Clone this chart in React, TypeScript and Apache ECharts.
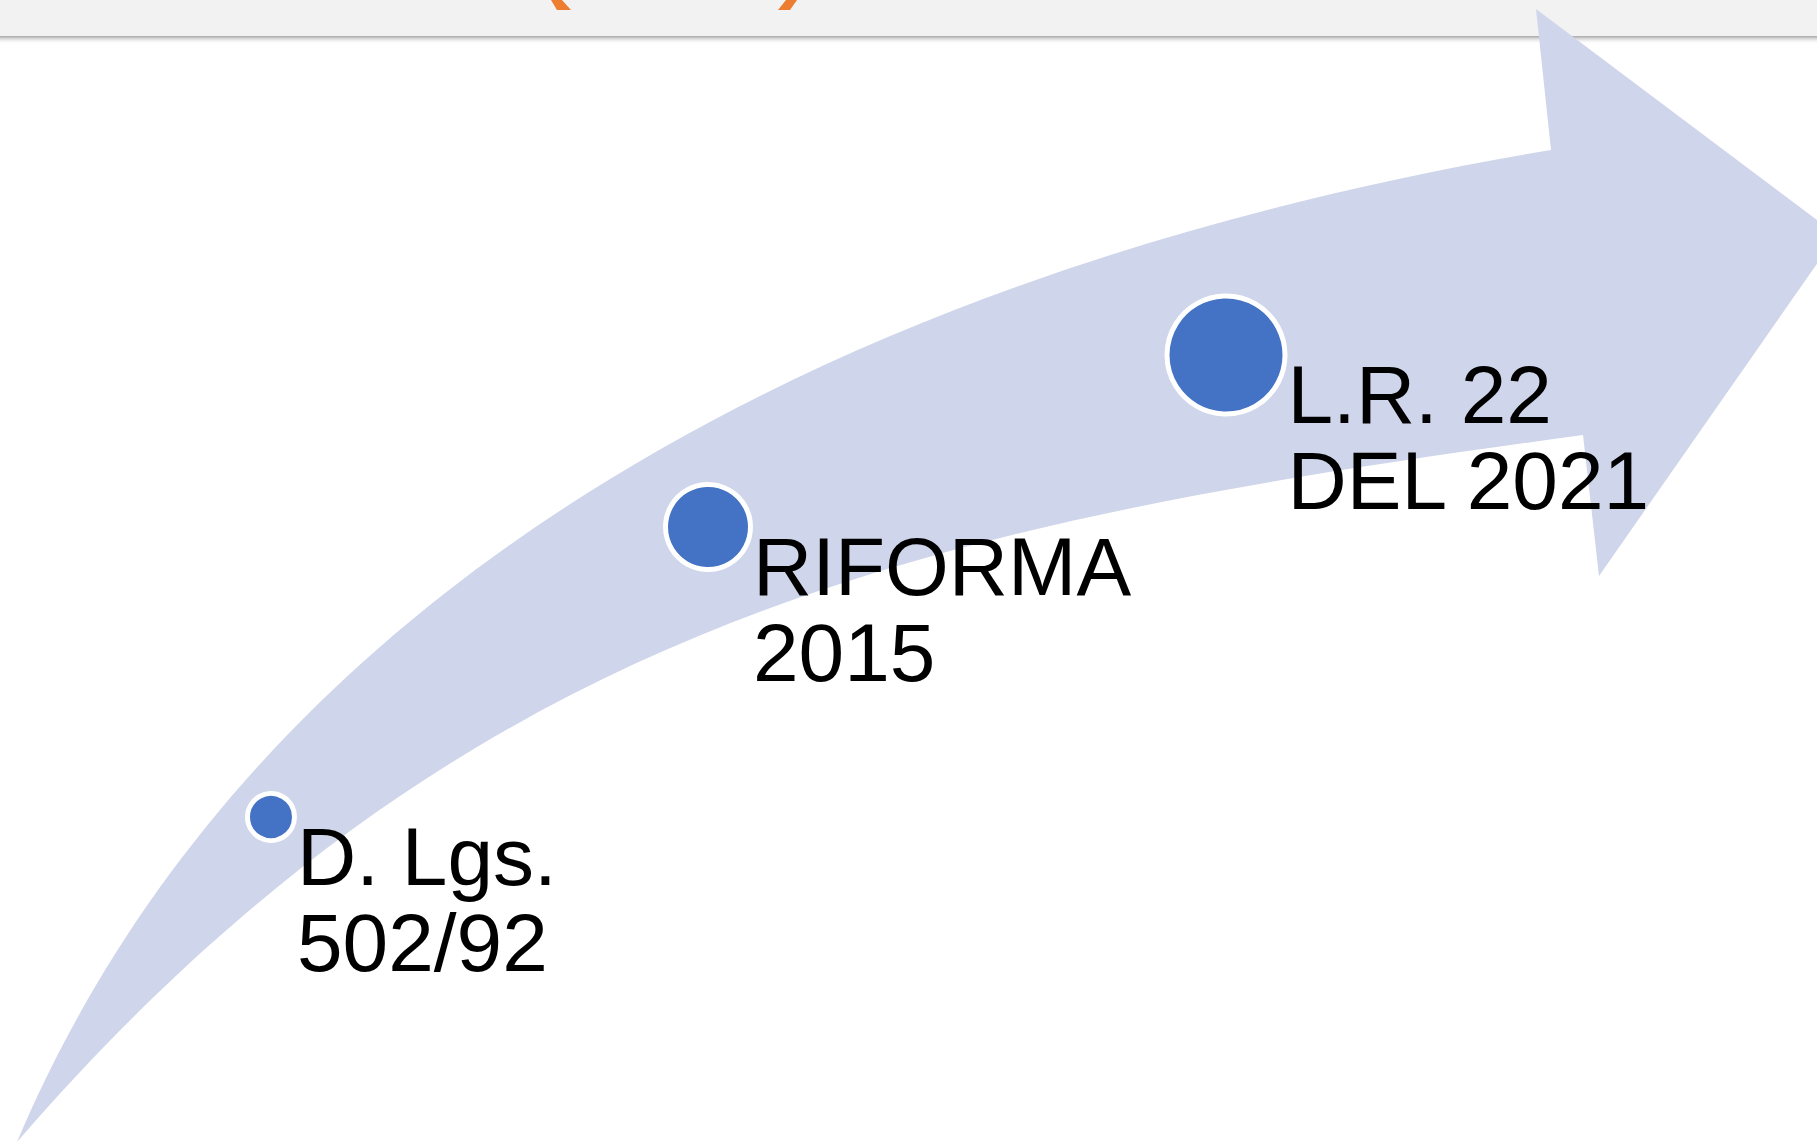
import React, { useEffect, useRef } from "react";
import * as echarts from "echarts";

// Timeline events (chart units = pixels of the 1817x1143 canvas)
const EVENT_NAMES = ["D. Lgs.\n502/92", "RIFORMA\n2015", "L.R. 22\nDEL 2021"];
const EVENT_X = [271, 708, 1226];
const EVENT_Y = [817, 527, 355];
const EVENT_SIZE = [47, 85, 118];

// Curved arrow outline (chart units)
const ARROW_HEAD = [
  [1551, 150],
  [1536, 9],
  [1837, 235],
  [1599, 576],
  [1583, 435],
];
const LOWER_EDGE = [
  [939, 523],
  [475, 613],
  [17, 1142],
];
const UPPER_EDGE = [
  [270, 544],
  [910, 257],
  [1551, 150],
];

const W = 1817;
const H = 1143;

export default function App() {
  const ref = useRef<HTMLDivElement>(null);

  useEffect(() => {
    if (!ref.current) return;
    const chart = echarts.init(ref.current, null, { renderer: "svg" });

    const data = EVENT_NAMES.map((n, i) => ({
      name: n,
      value: [EVENT_X[i], EVENT_Y[i]],
    }));

    const option: any = {
      animation: false,
      backgroundColor: "#ffffff",
      grid: { left: 0, right: 0, top: 0, bottom: 0 },
      xAxis: { type: "value", min: 0, max: W, show: false },
      yAxis: { type: "value", min: 0, max: H, inverse: true, show: false },
      graphic: [
        {
          type: "rect",
          z: 0,
          shape: { x: 0, y: 0, width: W, height: 36 },
          style: { fill: "#F2F2F2" },
          silent: true,
        },
        {
          type: "rect",
          z: 0,
          shape: { x: 0, y: 36, width: W, height: 8 },
          style: {
            fill: new echarts.graphic.LinearGradient(0, 0, 0, 1, [
              { offset: 0, color: "#A6A6A6" },
              { offset: 1, color: "rgba(255,255,255,0)" },
            ]),
          },
          silent: true,
        },
        {
          type: "polygon",
          z: 1,
          shape: { points: [[551, 0], [562, 0], [571, 10], [557, 10]] },
          style: { fill: "#ED7D31" },
          silent: true,
        },
        {
          type: "polygon",
          z: 1,
          shape: { points: [[786, 0], [797, 0], [790, 10], [778, 10]] },
          style: { fill: "#ED7D31" },
          silent: true,
        },
      ],
      series: [
        {
          type: "custom",
          z: 2,
          silent: true,
          data: [0],
          renderItem: (_params: any, api: any) => {
            const c = (p: number[]) => api.coord(p);
            const f = (p: number[]) => {
              const q = c(p);
              return q[0].toFixed(1) + " " + q[1].toFixed(1);
            };
            let d = "M " + f(ARROW_HEAD[0]);
            for (let i = 1; i < ARROW_HEAD.length; i++) d += " L " + f(ARROW_HEAD[i]);
            d += " C " + LOWER_EDGE.map(f).join(" ");
            d += " C " + UPPER_EDGE.map(f).join(" ");
            d += " Z";
            return {
              type: "path",
              shape: { pathData: d },
              style: { fill: "#CFD5EA" },
            };
          },
        },
        {
          type: "scatter",
          z: 3,
          silent: true,
          data,
          symbol: "circle",
          symbolSize: (_v: any, p: any) => EVENT_SIZE[p.dataIndex],
          itemStyle: {
            color: "#4472C4",
            borderColor: "#FFFFFF",
            borderWidth: 5,
            opacity: 1,
          },
          label: {
            show: true,
            position: "right",
            distance: 0,
            offset: [0, 82],
            formatter: "{b}",
            color: "#000000",
            fontSize: 82,
            lineHeight: 86,
            fontFamily: "'Liberation Sans', Arial, sans-serif",
          },
        },
      ],
    };

    chart.setOption(option);
    return () => chart.dispose();
  }, []);

  return (
    <div
      ref={ref}
      style={{
        position: "fixed",
        left: 0,
        top: 0,
        width: W + "px",
        height: H + "px",
        background: "#ffffff",
      }}
    />
  );
}
